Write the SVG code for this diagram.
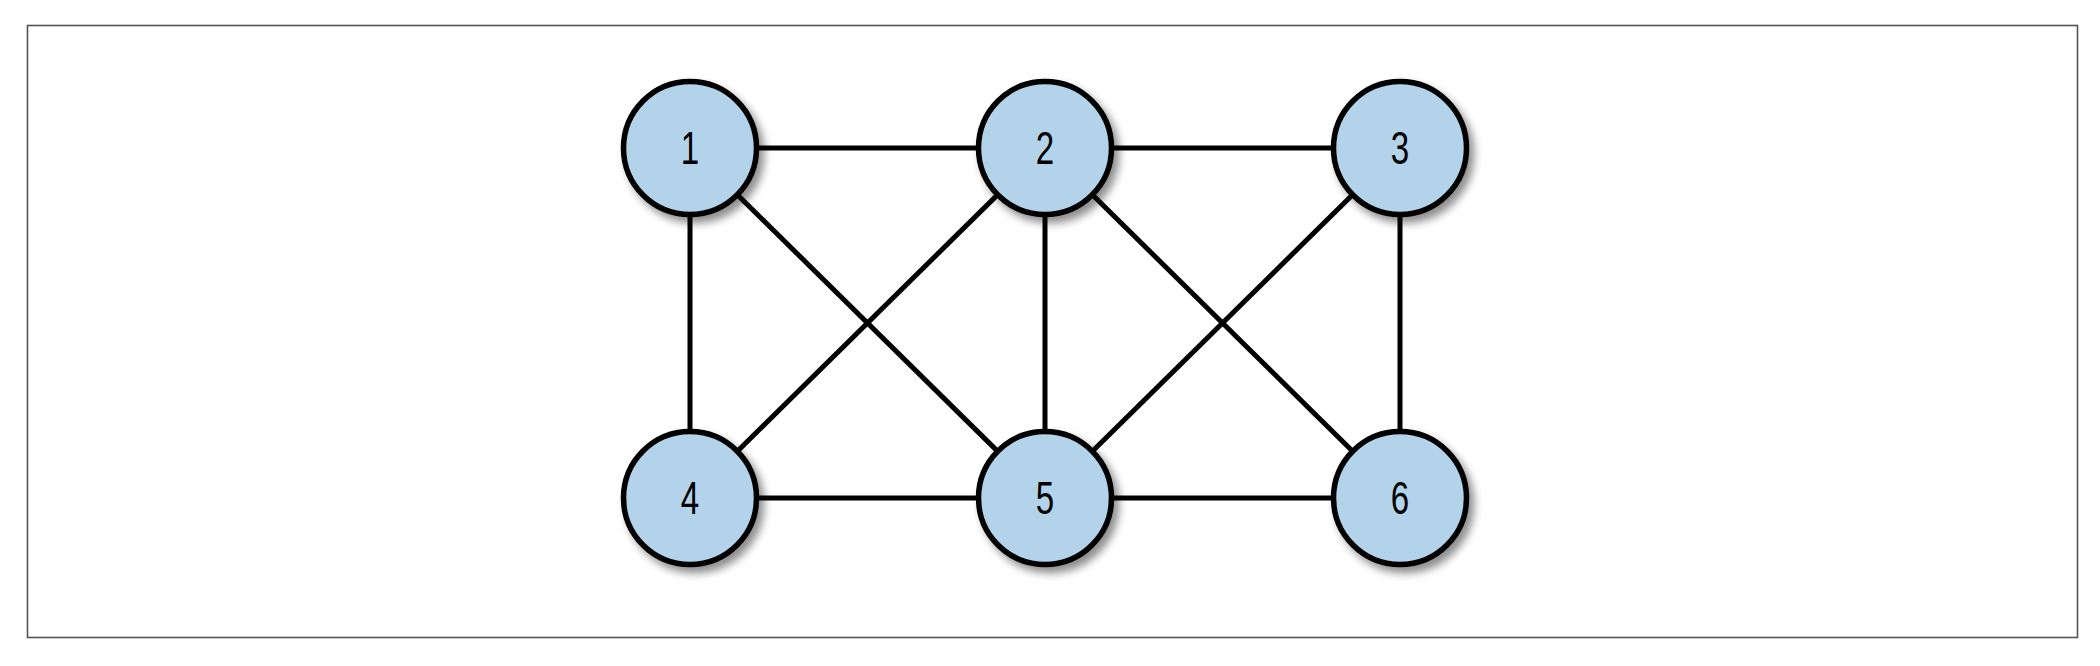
<svg xmlns="http://www.w3.org/2000/svg" width="2100" height="666" viewBox="0 0 2100 666">
<defs>
<filter id="sh" x="-30%" y="-30%" width="160%" height="160%">
<feGaussianBlur in="SourceAlpha" stdDeviation="4"/>
<feOffset dx="5" dy="6" result="b"/>
<feComponentTransfer><feFuncA type="linear" slope="0.45"/></feComponentTransfer>
<feMerge><feMergeNode/><feMergeNode in="SourceGraphic"/></feMerge>
</filter>
</defs>
<style>
.edge{stroke:#000;stroke-width:5;fill:none}
.node circle{fill:#b3d3ea;stroke:#000;stroke-width:5.5;filter:url(#sh)}
.node text{font-family:"Liberation Sans",sans-serif;font-size:46px;text-anchor:middle;fill:#000}
</style>
<rect x="27.5" y="25.5" width="2050" height="612" fill="#fff" stroke="#555" stroke-width="1.6"/>
<g id="connectors">
<line class="edge" x1="690" y1="148" x2="1045" y2="148"/>
<line class="edge" x1="1045" y1="148" x2="1400" y2="148"/>
<line class="edge" x1="690" y1="498" x2="1045" y2="498"/>
<line class="edge" x1="1045" y1="498" x2="1400" y2="498"/>
<line class="edge" x1="690" y1="148" x2="690" y2="498"/>
<line class="edge" x1="1045" y1="148" x2="1045" y2="498"/>
<line class="edge" x1="1400" y1="148" x2="1400" y2="498"/>
<line class="edge" x1="690" y1="148" x2="1045" y2="498"/>
<line class="edge" x1="1045" y1="148" x2="690" y2="498"/>
<line class="edge" x1="1045" y1="148" x2="1400" y2="498"/>
<line class="edge" x1="1400" y1="148" x2="1045" y2="498"/>
</g>
<g id="node1" class="node"><circle cx="690" cy="148" r="66.5"/><text transform="translate(690 164) scale(0.72 1)">1</text></g>
<g id="node2" class="node"><circle cx="1045" cy="148" r="66.5"/><text transform="translate(1045 164) scale(0.72 1)">2</text></g>
<g id="node3" class="node"><circle cx="1400" cy="148" r="66.5"/><text transform="translate(1400 164) scale(0.72 1)">3</text></g>
<g id="node4" class="node"><circle cx="690" cy="498" r="66.5"/><text transform="translate(690 514) scale(0.72 1)">4</text></g>
<g id="node5" class="node"><circle cx="1045" cy="498" r="66.5"/><text transform="translate(1045 514) scale(0.72 1)">5</text></g>
<g id="node6" class="node"><circle cx="1400" cy="498" r="66.5"/><text transform="translate(1400 514) scale(0.72 1)">6</text></g>
</svg>
